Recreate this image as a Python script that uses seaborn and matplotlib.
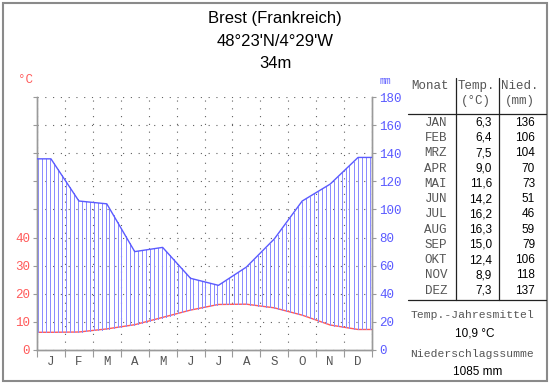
import numpy as np
import pandas as pd
import matplotlib
matplotlib.use("Agg")
import matplotlib.pyplot as plt
from matplotlib.lines import Line2D
from matplotlib.patches import Rectangle
import seaborn as sns

# climate data for Brest
months_short = ["J", "F", "M", "A", "M", "J", "J", "A", "S", "O", "N", "D"]
months_table = ["JAN", "FEB", "MRZ", "APR", "MAI", "JUN", "JUL", "AUG", "SEP", "OKT", "NOV", "DEZ"]
temp = [6.3, 6.4, 7.5, 9.0, 11.6, 14.2, 16.2, 16.3, 15.0, 12.4, 8.9, 7.3]
precip = [136, 106, 104, 70, 73, 51, 46, 59, 79, 106, 118, 137]
temp_ticks = [0, 10, 20, 30, 40]
precip_ticks = [0, 20, 40, 60, 80, 100, 120, 140, 160, 180]
title_lines = ["Brest (Frankreich)", "48°23'N/4°29'W", "34m"]
temp_mean = "10,9 °C"
precip_sum = "1085 mm"

sns.set_theme(style="white")
plt.rcParams["font.family"] = ["Liberation Sans", "DejaVu Sans"]
MONO = ["Liberation Mono", "DejaVu Sans Mono"]
SANS = ["Liberation Sans", "DejaVu Sans"]
RED = "#ff5a5a"
BLUE = "#5a5aff"
HATCH = "#8c8cff"
GREY = "#9a9a9a"
TXT = "#555555"

W, H = 550, 384
AX_W = 335


def px(x, y):
    return x / W, 1 - y / H


# curves are drawn at month centres and held flat to the edges
centres = np.arange(12) + 0.5
df = pd.DataFrame({
    "x": np.concatenate([[0], centres, [12]]),
    "temp": [temp[0]] + temp + [temp[-1]],
    "precip": [precip[0]] + precip + [precip[-1]],
})

fig = plt.figure(figsize=(W / 100, H / 100), dpi=100)
fig.patch.set_facecolor("white")
ax_t = fig.add_axes([37 / W, 34 / H, AX_W / W, 253 / H])
ax_p = ax_t.twinx()

ax_t.set_xlim(0, 12)
ax_t.set_ylim(0, 90)
ax_p.set_ylim(0, 180)

# humid period hatching between the curves, one line every 4 px
xs = np.arange(0.5 * 12 / AX_W, 12, 4 * 12 / AX_W)
t_i = np.interp(xs, df["x"], df["temp"]) * 2
p_i = np.interp(xs, df["x"], df["precip"])
wet = p_i > t_i
ax_p.vlines(xs[wet], t_i[wet], p_i[wet], colors=HATCH, lw=0.72, zorder=2, antialiased=False)

sns.lineplot(data=df, x="x", y="temp", ax=ax_t, color=RED, lw=1.0, zorder=3)
sns.lineplot(data=df, x="x", y="precip", ax=ax_p, color=BLUE, lw=1.0, zorder=3)

# grid and ticks
ax_t.set_xticks(range(13))
ax_t.set_xticklabels([])
ax_t.set_xticks(centres, minor=True)
ax_t.set_xticklabels(months_short, minor=True, family=MONO, fontsize=9, color=TXT)
ax_t.tick_params(axis="x", which="major", direction="out", length=5, width=0.8, color=GREY, bottom=True)
ax_t.tick_params(axis="x", which="minor", length=0, pad=4)

ax_t.set_yticks(np.arange(0, 91, 10))
ax_t.set_yticklabels([str(v) if v in temp_ticks else "" for v in range(0, 91, 10)],
                     family=MONO, fontsize=9, color=RED)
ax_t.tick_params(axis="y", direction="out", length=3, width=0.8, color=GREY, left=True, pad=2)

ax_p.set_yticks(precip_ticks)
ax_p.set_yticklabels([str(v) for v in precip_ticks], family=MONO, fontsize=9, color=BLUE)
ax_p.tick_params(axis="y", direction="out", length=3, width=0.8, color=GREY, right=True, pad=2)

ax_t.grid(True, which="major", color="#606060", linestyle=(0, (1, 6)), lw=0.8)
ax_t.set_xlabel("")
ax_t.set_ylabel("")
ax_p.set_xlabel("")
ax_p.set_ylabel("")
for a in (ax_t, ax_p):
    for s in ("left", "right", "bottom"):
        a.spines[s].set_color(GREY)
        a.spines[s].set_linewidth(1.0)
    a.spines["top"].set_visible(False)

fig.text(*px(26, 80), "°C", family=MONO, fontsize=9, color=RED, ha="center", va="center")
fig.text(*px(385, 81), "mm", family=MONO, fontsize=7, color=BLUE, ha="center", va="center")

# title
for line, y in zip(title_lines, [18, 41, 63]):
    fig.text(*px(275, y), line, family=SANS, fontsize=12, color="black", ha="center", va="center")

# table
fig.text(*px(430, 86), "Monat", family=MONO, fontsize=9, color=TXT, ha="center", va="center")
fig.text(*px(476, 86), "Temp.", family=MONO, fontsize=9, color=TXT, ha="center", va="center")
fig.text(*px(476, 101), "(°C)", family=MONO, fontsize=9, color=TXT, ha="center", va="center")
fig.text(*px(520, 86), "Nied.", family=MONO, fontsize=9, color=TXT, ha="center", va="center")
fig.text(*px(520, 101), "(mm)", family=MONO, fontsize=9, color=TXT, ha="center", va="center")

for i, (m, t, p) in enumerate(zip(months_table, temp, precip)):
    y = 122.7 + i * 15.27
    fig.text(*px(447, y), m, family=MONO, fontsize=9, color=TXT, ha="right", va="center")
    fig.text(*px(492, y), f"{t:.1f}".replace(".", ","), family=SANS, fontsize=8.5,
             color="black", ha="right", va="center")
    fig.text(*px(535, y), str(p), family=SANS, fontsize=8.5, color="black", ha="right", va="center")

for (x0, y0), (x1, y1) in [((408, 114), (546, 114)), ((408, 300), (546, 300)),
                           ((456, 78), (456, 300)), ((499, 78), (499, 300))]:
    a, b = px(x0, y0)
    c, d = px(x1, y1)
    fig.add_artist(Line2D([a, c], [b, d], color="#222222", lw=0.9, transform=fig.transFigure))

fig.text(*px(472, 315), "Temp.-Jahresmittel", family=MONO, fontsize=8.2, color=TXT,
         ha="center", va="center")
fig.text(*px(475, 333), temp_mean, family=SANS, fontsize=8.5, color="black", ha="center", va="center")
fig.text(*px(472, 354), "Niederschlagssumme", family=MONO, fontsize=8.2, color=TXT,
         ha="center", va="center")
fig.text(*px(478, 372), precip_sum, family=SANS, fontsize=8.5, color="black", ha="center", va="center")

# outer frame
fig.add_artist(Rectangle(px(2.5, 381), 544.5 / W, 378 / H, fill=False, edgecolor="#8a8a8a",
                         lw=1.5, transform=fig.transFigure))

plt.savefig("out.png", dpi=100)
plt.close()
